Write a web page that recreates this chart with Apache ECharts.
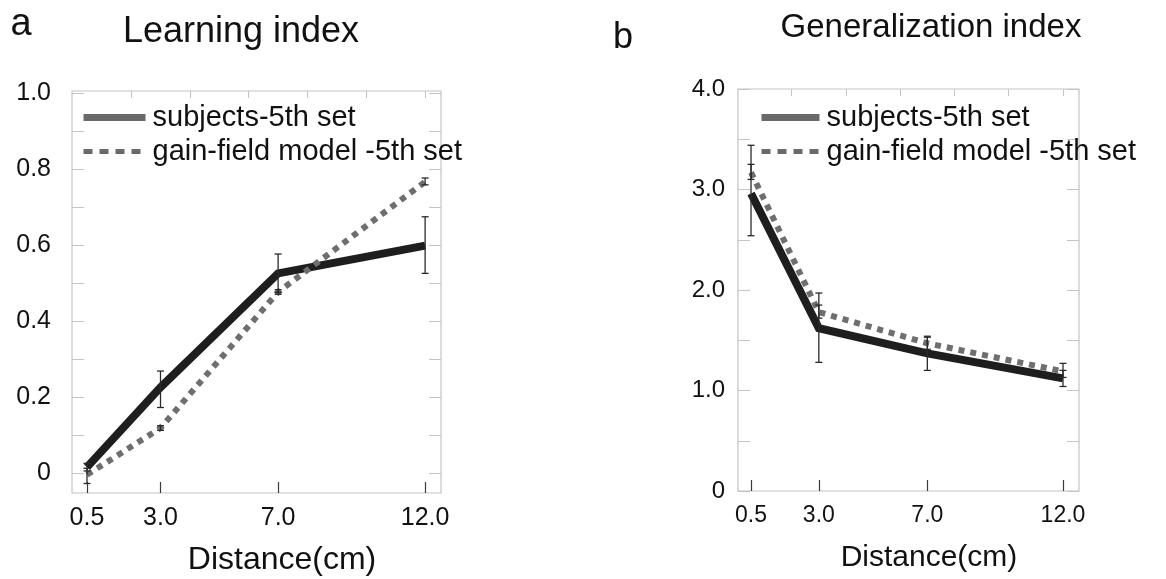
<!DOCTYPE html>
<html>
<head>
<meta charset="utf-8">
<script src="https://cdn.jsdelivr.net/npm/echarts@6/dist/echarts.min.js"></script>
<style>
html,body{margin:0;padding:0;background:#fff;}
#chart{width:1166px;height:579px;}
</style>
</head>
<body>
<div id="chart"></div>
<script>
// ---- data ----
const distances = [0.5, 3.0, 7.0, 12.0];
const xTickLabels = ['0.5', '3.0', '7.0', '12.0'];
const seriesNames = ['subjects-5th set', 'gain-field model -5th set'];

// Learning index (panel a)
const learnSubj = [0.015, 0.225, 0.525, 0.598];
const learnSubjLow = [0.005, 0.172, 0.475, 0.525];
const learnSubjHigh = [0.025, 0.268, 0.576, 0.674];
const learnModel = [-0.005, 0.118, 0.476, 0.766];
const learnModelLow = [-0.028, 0.112, 0.470, 0.758];
const learnModelHigh = [0.012, 0.124, 0.482, 0.776];
const learnYTicks = [0, 0.2, 0.4, 0.6, 0.8, 1.0];
const learnYMinor = [0, 0.1, 0.2, 0.3, 0.4, 0.5, 0.6, 0.7, 0.8, 0.9, 1.0];

// Generalization index (panel b)
const genSubj = [2.96, 1.62, 1.37, 1.12];
const genSubjLow = [2.54, 1.28, 1.20, 1.04];
const genSubjHigh = [3.44, 1.97, 1.54, 1.20];
const genModel = [3.17, 1.78, 1.47, 1.19];
const genModelLow = [3.10, 1.72, 1.41, 1.13];
const genModelHigh = [3.25, 1.85, 1.53, 1.27];
const genYTicks = [0, 1.0, 2.0, 3.0, 4.0];
const genYMinor = [0, 0.5, 1.0, 1.5, 2.0, 2.5, 3.0, 3.5, 4.0];

const topTicks = [2, 4, 6, 8, 10, 12];

// ---- helpers ----
const FONT = '"Liberation Sans", Arial, Helvetica, sans-serif';
const BOX = '#c4c4c4';
const pairs = (xs, ys) => xs.map((x, i) => [x, ys[i]]);
const triples = (xs, lo, hi) => xs.map((x, i) => [x, lo[i], hi[i]]);
const fmtY = v => (v === 0 ? '0' : v.toFixed(1));
const fmtX = v => xTickLabels[distances.indexOf(v)] || String(v);

function errRender(params, api) {
  const x = api.value(0);
  const p1 = api.coord([x, api.value(1)]);
  const p2 = api.coord([x, api.value(2)]);
  const w = 3.5;
  const st = { stroke: '#2a2a2a', lineWidth: 1.3 };
  return {
    type: 'group',
    children: [
      { type: 'line', shape: { x1: p1[0], y1: p1[1], x2: p2[0], y2: p2[1] }, style: st },
      { type: 'line', shape: { x1: p1[0] - w, y1: p1[1], x2: p1[0] + w, y2: p1[1] }, style: st },
      { type: 'line', shape: { x1: p2[0] - w, y1: p2[1], x2: p2[0] + w, y2: p2[1] }, style: st }
    ]
  };
}

function bottomX(gi, min, max, fs) {
  return {
    gridIndex: gi, type: 'value', position: 'bottom', min: min, max: max,
    axisLine: { show: false, onZero: false },
    splitLine: { show: false },
    axisTick: { customValues: distances, inside: true, length: 11, lineStyle: { color: '#3a3a3a', width: 1.2 } },
    axisLabel: { customValues: distances, formatter: fmtX, fontSize: fs, color: '#111', fontFamily: FONT, margin: 13 }
  };
}
function topX(gi, min, max) {
  return {
    gridIndex: gi, type: 'value', position: 'top', min: min, max: max,
    axisLine: { show: false, onZero: false }, splitLine: { show: false },
    axisTick: { customValues: topTicks, inside: true, length: 7, lineStyle: { color: BOX } },
    axisLabel: { show: false }
  };
}
function leftY(gi, min, max, labels, minor, fs, margin) {
  return {
    gridIndex: gi, type: 'value', position: 'left', min: min, max: max,
    axisLine: { show: false, onZero: false }, splitLine: { show: false },
    axisTick: { customValues: minor, inside: true, length: 12, lineStyle: { color: BOX } },
    axisLabel: { customValues: labels, formatter: fmtY, fontSize: fs, color: '#111', fontFamily: FONT, margin: margin }
  };
}
function rightY(gi, min, max, minor) {
  return {
    gridIndex: gi, type: 'value', position: 'right', min: min, max: max,
    axisLine: { show: false, onZero: false }, splitLine: { show: false },
    axisTick: { customValues: minor, inside: true, length: 12, lineStyle: { color: BOX } },
    axisLabel: { show: false }
  };
}

function lineSeries(name, xi, yi, data, solid) {
  return {
    name: name, type: 'line', xAxisIndex: xi, yAxisIndex: yi, data: data,
    symbol: 'none', animation: false, z: solid ? 3 : 4,
    itemStyle: { color: solid ? '#1e1e1e' : '#6e6e6e' },
    lineStyle: solid
      ? { color: '#1e1e1e', width: 8, join: 'miter' }
      : { color: '#6e6e6e', width: 6, type: [6, 6], cap: 'butt' }
  };
}
function errSeries(xi, yi, data) {
  return {
    type: 'custom', xAxisIndex: xi, yAxisIndex: yi, data: data,
    renderItem: errRender, z: 5, animation: false, silent: true
  };
}

function legendFor(left, top, w, fs) {
  return {
    orient: 'vertical', left: left, top: top, itemWidth: w, itemHeight: 14, itemGap: 5,
    selectedMode: false, padding: 0,
    textStyle: { fontSize: fs, color: '#111', fontFamily: FONT, padding: [0, 0, 0, 2] },
    data: [
      { name: seriesNames[0], itemStyle: { opacity: 0 }, lineStyle: { color: '#6a6a6a', width: 7, type: 'solid' } },
      { name: seriesNames[1], itemStyle: { opacity: 0 }, lineStyle: { color: '#6a6a6a', width: 5, type: [9, 7] } }
    ]
  };
}

const chart = echarts.init(document.getElementById('chart'), null, { renderer: 'canvas' });
chart.setOption({
  backgroundColor: '#fff',
  animation: false,
  grid: [
    { left: 72, right: 725, top: 91, bottom: 86, show: true, borderColor: BOX, borderWidth: 1.2, backgroundColor: 'transparent' },
    { left: 738, right: 87, top: 89, bottom: 88, show: true, borderColor: BOX, borderWidth: 1.2, backgroundColor: 'transparent' }
  ],
  xAxis: [
    bottomX(0, -0.01, 12.54, 25),
    topX(0, -0.01, 12.54),
    bottomX(1, 0.02, 12.59, 23),
    topX(1, 0.02, 12.59)
  ],
  yAxis: [
    leftY(0, -0.053, 1.005, learnYTicks, learnYMinor, 25, 21),
    rightY(0, -0.053, 1.005, learnYMinor),
    leftY(1, 0, 4.0, genYTicks, genYMinor, 24, 13),
    rightY(1, 0, 4.0, genYMinor)
  ],
  legend: [legendFor(80, 103, 62, 29), legendFor(758, 103, 58, 29)],
  series: [
    lineSeries(seriesNames[0], 0, 0, pairs(distances, learnSubj), true),
    lineSeries(seriesNames[1], 0, 0, pairs(distances, learnModel), false),
    errSeries(0, 0, triples(distances, learnSubjLow, learnSubjHigh)),
    errSeries(0, 0, triples(distances, learnModelLow, learnModelHigh)),
    lineSeries(seriesNames[0], 2, 2, pairs(distances, genSubj), true),
    lineSeries(seriesNames[1], 2, 2, pairs(distances, genModel), false),
    errSeries(2, 2, triples(distances, genSubjLow, genSubjHigh)),
    errSeries(2, 2, triples(distances, genModelLow, genModelHigh))
  ],
  graphic: [
    { type: 'text', x: 21, y: 25, style: { text: 'a', fontSize: 38, fontFamily: FONT, fill: '#111', align: 'center', verticalAlign: 'middle' } },
    { type: 'text', x: 241, y: 32, style: { text: 'Learning index', fontSize: 36, fontFamily: FONT, fill: '#111', align: 'center', verticalAlign: 'middle' } },
    { type: 'text', x: 623, y: 38, style: { text: 'b', fontSize: 36, fontFamily: FONT, fill: '#111', align: 'center', verticalAlign: 'middle' } },
    { type: 'text', x: 931, y: 28, style: { text: 'Generalization index', fontSize: 33, fontFamily: FONT, fill: '#111', align: 'center', verticalAlign: 'middle' } },
    { type: 'text', x: 282, y: 560, style: { text: 'Distance(cm)', fontSize: 32, fontFamily: FONT, fill: '#111', align: 'center', verticalAlign: 'middle' } },
    { type: 'text', x: 929, y: 558, style: { text: 'Distance(cm)', fontSize: 30, fontFamily: FONT, fill: '#111', align: 'center', verticalAlign: 'middle' } }
  ]
});
</script>
</body>
</html>
